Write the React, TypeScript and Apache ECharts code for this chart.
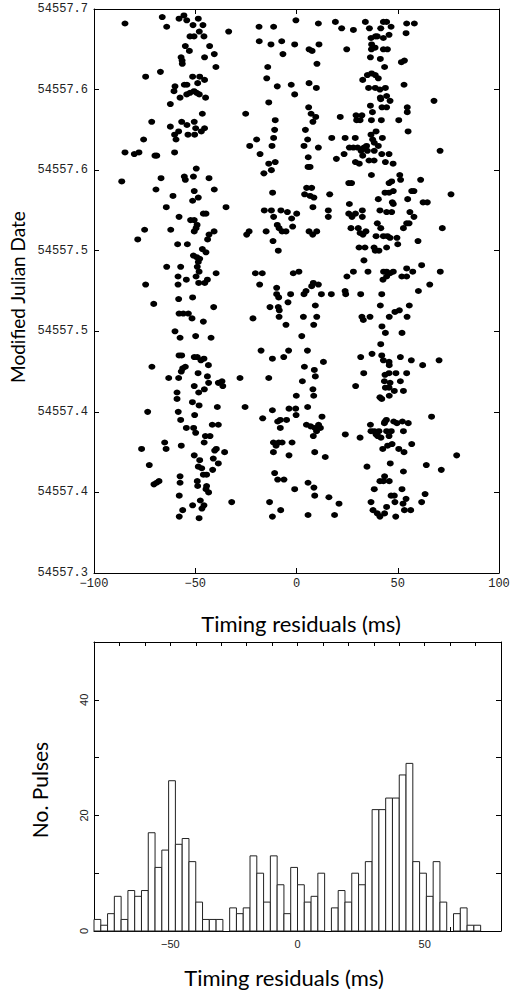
import React, { useEffect, useRef } from "react";
import * as echarts from "echarts";

// ---------- data ----------
const MJD_BASE = 54557; // y values are MJD - 54557 (days)
const Y_MIN = 0.35;
const Y_MAX = 0.7;
const Y_STEP = 0.05;
const yTickLabels = ["54557.3", "54557.4", "54557.4", "54557.5", "54557.5", "54557.6", "54557.6", "54557.7"];
const xTickValues = [-100, -50, 0, 50, 100];

// [timing residual (ms), MJD - 54557]
const pulsesUpperLeft: number[][] = [
  [-84.7,0.691],[-66.3,0.695],[-64.1,0.689],[-58.0,0.694],[-55.6,0.696],[-54.2,0.693],[-51.1,0.690],[-48.5,0.694],[-46.2,0.690],[-48.0,0.686],[-52.6,0.683],[-50.6,0.683],[-45.7,0.683],[-33.5,0.686],[-18.5,0.689],[-11.3,0.689],[-18.4,0.680],[-12.6,0.678],[-7.3,0.680],[-0.9,0.678],[-6.7,0.672],[-54.9,0.677],[-52.9,0.674],[-42.9,0.677],[-40.6,0.672],[-45.4,0.670],[-57.0,0.670],[-56.5,0.668],[-56.4,0.666],[-39.8,0.664],[-14.2,0.664],[-67.2,0.661],[-74.5,0.658],[-51.3,0.658],[-47.8,0.658],[-45.4,0.656],[-48.8,0.654],[-60.0,0.652],[-55.4,0.653],[-54.1,0.653],[-60.5,0.649],[-14.7,0.657],[-9.5,0.652],[-2.6,0.653],[-0.9,0.647],[-52.6,0.648],[-50.6,0.649],[-49.3,0.648],[-48.0,0.647],[-54.2,0.647],[-57.5,0.645],[-44.9,0.645],[-62.3,0.641],[-13.7,0.642],[-46.5,0.635],[-25.1,0.635],[-71.5,0.630],[-56.7,0.630],[-50.5,0.630],[-54.1,0.628],[-62.3,0.627],[-49.8,0.626],[-45.4,0.626],[-47.0,0.624],[-58.2,0.624],[-60.2,0.622],[-53.6,0.622],[-50.3,0.622],[-59.5,0.619],[-75.5,0.619],[-10.5,0.631],[-10.8,0.625],[-11.3,0.620],[-19.7,0.619],[-23.1,0.615],[-12.1,0.615],[-84.7,0.611],[-80.1,0.610],[-77.8,0.611],[-69.9,0.609],[-69.0,0.609],[-60.2,0.611],[-18.0,0.610],[-10.5,0.605],[-13.7,0.604],[-12.4,0.600],[-16.1,0.598],[-49.5,0.601],[-55.4,0.596],[-50.9,0.596],[-54.9,0.594],[-86.3,0.593],[-66.9,0.595],[-43.2,0.595],[-69.4,0.588],[-40.6,0.588],[-50.5,0.587],[-48.5,0.583],[-51.3,0.581],[-61.0,0.584],[-11.8,0.586],[-64.3,0.577],[-34.8,0.577],[-46.0,0.573],[-44.7,0.573],[-58.0,0.571],[-52.3,0.569],[-50.5,0.569],[-15.9,0.575],[-12.4,0.575],[-7.7,0.575],[-4.5,0.574],[-11.3,0.571],[-2.4,0.570],[-9.5,0.566],[-8.6,0.564],[-7.1,0.562],[-5.2,0.562],[-1.9,0.565],[-15.0,0.562],[-49.1,0.566],[-49.6,0.564],[-50.5,0.562],[-75.0,0.563],[-62.1,0.563],[-40.7,0.562],[-43.2,0.560],[-43.9,0.557],[-78.4,0.557],[-23.4,0.562],[-24.6,0.560],[-11.6,0.556],[-58.7,0.554],[-53.9,0.554],[-46.5,0.551],[-44.7,0.549],[-50.9,0.547],[-49.3,0.546],[-47.8,0.545],[-48.5,0.543],[-9.0,0.550],[-64.1,0.540],[-57.2,0.540],[-49.0,0.540]
];
const pulsesUpperRight: number[][] = [
  [-0.3,0.693],[10.8,0.691],[19.2,0.692],[22.3,0.688],[28.1,0.687],[34.0,0.692],[36.0,0.688],[41.6,0.688],[42.9,0.692],[44.5,0.692],[46.7,0.689],[54.4,0.691],[58.2,0.691],[54.1,0.685],[36.8,0.682],[39.0,0.683],[39.9,0.683],[42.9,0.682],[45.7,0.684],[11.1,0.678],[6.2,0.675],[7.7,0.674],[24.8,0.675],[37.1,0.678],[37.0,0.675],[38.8,0.676],[42.9,0.675],[44.9,0.675],[10.1,0.666],[36.5,0.670],[41.4,0.669],[43.5,0.664],[51.8,0.667],[53.3,0.668],[32.7,0.656],[35.0,0.659],[37.1,0.660],[38.9,0.659],[40.4,0.657],[35.6,0.651],[38.9,0.651],[41.2,0.650],[43.9,0.651],[53.1,0.653],[6.2,0.654],[9.8,0.651],[41.4,0.645],[44.5,0.646],[46.2,0.643],[41.6,0.644],[67.9,0.643],[6.0,0.639],[7.2,0.635],[9.5,0.633],[8.1,0.630],[21.6,0.633],[29.4,0.634],[32.3,0.634],[29.7,0.631],[31.4,0.631],[36.5,0.640],[37.5,0.636],[37.0,0.631],[42.2,0.639],[44.5,0.639],[41.9,0.631],[50.5,0.631],[54.7,0.639],[54.7,0.636],[55.1,0.624],[4.4,0.625],[5.5,0.619],[3.7,0.615],[10.8,0.614],[5.8,0.608],[5.7,0.602],[6.7,0.602],[17.4,0.620],[24.0,0.620],[29.0,0.620],[36.8,0.622],[37.6,0.619],[39.3,0.624],[42.4,0.620],[38.4,0.617],[40.4,0.615],[26.1,0.614],[28.1,0.614],[23.5,0.610],[19.7,0.607],[30.2,0.614],[31.9,0.612],[33.3,0.614],[34.6,0.615],[32.7,0.609],[35.0,0.612],[38.4,0.612],[42.1,0.610],[45.7,0.610],[29.1,0.605],[31.0,0.604],[35.8,0.606],[38.3,0.606],[43.9,0.605],[47.7,0.604],[70.9,0.612],[37.0,0.597],[51.0,0.597],[51.4,0.594],[45.7,0.592],[47.0,0.593],[61.3,0.594],[25.8,0.592],[27.2,0.592],[5.0,0.589],[7.5,0.589],[4.0,0.585],[6.7,0.584],[8.6,0.583],[16.4,0.585],[8.1,0.577],[0.1,0.573],[15.7,0.575],[15.7,0.571],[26.1,0.579],[25.8,0.573],[27.4,0.571],[29.1,0.573],[32.5,0.575],[32.5,0.571],[26.9,0.564],[30.5,0.564],[31.4,0.561],[34.3,0.562],[32.8,0.560],[40.4,0.582],[43.7,0.586],[45.7,0.586],[47.8,0.587],[47.3,0.580],[47.8,0.579],[41.2,0.575],[44.5,0.574],[47.0,0.574],[54.9,0.582],[56.9,0.587],[58.0,0.587],[62.5,0.580],[64.6,0.580],[76.3,0.585],[56.0,0.574],[58.0,0.571],[39.9,0.567],[41.6,0.564],[39.3,0.559],[42.9,0.559],[44.9,0.559],[46.2,0.558],[49.6,0.558],[50.0,0.554],[52.8,0.564],[54.4,0.567],[55.6,0.567],[60.0,0.556],[72.0,0.564],[30.9,0.552],[33.8,0.552],[38.3,0.552],[38.9,0.550],[40.7,0.550],[44.5,0.552],[33.3,0.544],[54.4,0.539],[61.8,0.541],[8.0,0.560],[10.0,0.562],[6.2,0.562]
];
const pulsesLowerLeft: number[][] = [
  [-48.1,0.537],[-39.7,0.536],[-20.3,0.536],[-16.9,0.536],[-1.6,0.536],[-58.5,0.534],[-54.4,0.532],[-49.6,0.534],[-48.3,0.530],[-45.3,0.530],[-44.0,0.532],[-74.5,0.529],[-58.5,0.529],[-18.2,0.529],[-9.8,0.527],[-9.8,0.523],[-8.8,0.521],[-2.9,0.523],[-4.2,0.518],[-13.1,0.515],[-9.0,0.515],[-8.5,0.513],[-8.6,0.509],[-5.2,0.504],[-21.5,0.508],[-70.5,0.517],[-58.2,0.520],[-51.3,0.521],[-40.9,0.515],[-58.0,0.511],[-55.9,0.511],[-53.4,0.511],[-51.6,0.508],[-46.0,0.506],[-60.0,0.500],[-57.5,0.496],[-49.8,0.497],[-42.2,0.496],[-58.0,0.485],[-56.7,0.485],[-50.5,0.484],[-49.0,0.484],[-47.2,0.482],[-45.7,0.483],[-43.5,0.479],[-54.9,0.478],[-56.2,0.477],[-56.9,0.475],[-71.4,0.478],[-63.1,0.471],[-58.2,0.471],[-48.6,0.474],[-44.0,0.472],[-43.4,0.468],[-38.6,0.468],[-36.8,0.469],[-36.4,0.466],[-50.5,0.466],[-48.3,0.462],[-45.5,0.464],[-27.9,0.471],[-13.7,0.471],[-17.5,0.488],[-11.9,0.483],[-6.3,0.484],[-3.9,0.488],[-59.0,0.462],[-59.0,0.458],[-51.4,0.456],[-48.1,0.454],[-73.5,0.450],[-58.4,0.450],[-50.3,0.448],[-39.1,0.453],[-25.4,0.453],[-57.2,0.445],[-54.4,0.440],[-50.8,0.440],[-49.8,0.437],[-41.6,0.442],[-38.6,0.442],[-45.0,0.435],[-42.7,0.435],[-45.6,0.431],[-65.1,0.431],[-76.5,0.427],[-64.4,0.427],[-56.9,0.429],[-50.5,0.423],[-47.8,0.420],[-41.1,0.421],[-40.4,0.426],[-39.6,0.427],[-35.5,0.425],[-38.6,0.418],[-48.5,0.416],[-46.8,0.415],[-41.4,0.414],[-72.7,0.417],[-46.0,0.411],[-44.4,0.411],[-57.5,0.410],[-57.5,0.406],[-49.0,0.407],[-48.8,0.404],[-70.4,0.405],[-69.1,0.406],[-67.9,0.407],[-44.4,0.404],[-44.7,0.402],[-43.4,0.400],[-57.9,0.398],[-47.5,0.395],[-51.3,0.392],[-45.7,0.392],[-46.7,0.390],[-56.2,0.389],[-57.9,0.385],[-48.1,0.384],[-32.0,0.394],[-13.3,0.394],[-7.8,0.389],[-11.9,0.385],[-10.8,0.412],[-9.3,0.408],[-6.2,0.408],[-0.9,0.402],[-11.4,0.431],[-10.1,0.429],[-8.8,0.431],[-7.1,0.431],[-2.2,0.431],[-11.4,0.425],[-3.7,0.423],[-11.9,0.451],[-16.7,0.446],[-9.3,0.444],[-8.0,0.445],[-4.9,0.445],[-8.0,0.440],[-3.7,0.452]
];
const pulsesLowerRight: number[][] = [
  [1.2,0.537],[24.9,0.534],[28.1,0.537],[35.3,0.537],[43.0,0.537],[44.5,0.537],[46.2,0.536],[47.8,0.537],[42.7,0.532],[44.5,0.534],[52.0,0.534],[54.4,0.534],[57.4,0.537],[71.0,0.537],[8.3,0.530],[10.8,0.529],[7.5,0.528],[4.7,0.525],[3.7,0.523],[12.3,0.523],[17.2,0.523],[24.0,0.525],[24.3,0.523],[31.7,0.523],[42.1,0.523],[60.2,0.525],[65.8,0.529],[9.3,0.516],[3.4,0.509],[10.0,0.509],[8.5,0.504],[32.3,0.509],[33.0,0.507],[36.3,0.509],[41.4,0.516],[45.8,0.509],[48.6,0.512],[50.8,0.513],[54.6,0.509],[55.7,0.516],[42.2,0.503],[43.9,0.499],[52.1,0.499],[2.6,0.497],[41.6,0.492],[5.4,0.488],[31.7,0.484],[37.3,0.486],[42.1,0.485],[42.9,0.482],[45.7,0.481],[45.8,0.479],[51.3,0.484],[56.7,0.482],[62.3,0.479],[70.4,0.482],[13.3,0.481],[3.9,0.478],[8.8,0.476],[9.3,0.472],[2.9,0.469],[8.1,0.464],[8.5,0.460],[-0.1,0.460],[33.2,0.474],[29.2,0.466],[43.7,0.473],[45.7,0.474],[49.1,0.474],[54.4,0.474],[43.4,0.469],[46.2,0.468],[51.3,0.469],[43.9,0.465],[45.7,0.465],[48.3,0.463],[52.8,0.463],[41.2,0.459],[42.1,0.458],[45.8,0.460],[-0.4,0.452],[-0.2,0.448],[5.5,0.453],[12.6,0.447],[4.9,0.442],[7.0,0.441],[9.1,0.440],[10.9,0.442],[11.8,0.440],[9.9,0.438],[8.3,0.435],[9.0,0.425],[14.2,0.422],[24.1,0.436],[31.4,0.434],[36.5,0.442],[36.8,0.438],[38.4,0.438],[39.6,0.437],[40.7,0.438],[39.3,0.436],[40.1,0.435],[41.7,0.434],[43.7,0.444],[43.4,0.443],[44.4,0.445],[44.5,0.438],[46.8,0.438],[45.7,0.435],[48.0,0.444],[49.6,0.443],[52.3,0.444],[55.2,0.443],[52.8,0.438],[56.9,0.430],[66.7,0.447],[42.6,0.427],[45.0,0.429],[47.2,0.430],[50.5,0.427],[53.1,0.425],[34.8,0.416],[46.3,0.418],[52.8,0.413],[64.1,0.417],[71.5,0.414],[79.1,0.423],[5.7,0.406],[8.6,0.403],[9.0,0.398],[16.0,0.397],[21.0,0.393],[5.7,0.386],[18.8,0.386],[43.5,0.410],[41.2,0.407],[42.9,0.407],[45.8,0.407],[38.4,0.402],[52.1,0.402],[46.7,0.398],[48.3,0.398],[48.6,0.394],[54.1,0.396],[52.6,0.393],[53.3,0.389],[56.4,0.389],[36.8,0.394],[37.8,0.389],[39.9,0.387],[41.2,0.385],[43.5,0.387],[44.5,0.391],[49.0,0.385],[61.8,0.394],[63.5,0.399]
];

// histogram: 60 bins from -80 to 80 ms
const HIST_MIN = -80;
const HIST_MAX = 80;
const binCounts = [
  2, 1, 3, 6, 2, 7, 6, 7, 17, 11,
  14, 26, 15, 16, 12, 5, 2, 2, 2, 0,
  4, 3, 4, 13, 10, 5, 13, 8, 3, 11,
  8, 5, 6, 10, 0, 4, 7, 5, 10, 8,
  12, 21, 21, 23, 23, 27, 29, 12, 10, 6,
  12, 5, 0, 3, 4, 1, 1, 0, 0, 0,
];

const minus = (v: number) => (v < 0 ? "\u2212" + Math.abs(v) : String(v));

export default function App() {
  const ref = useRef<HTMLDivElement>(null);
  useEffect(() => {
    if (!ref.current) return;
    const chart = echarts.init(ref.current, undefined, { renderer: "svg" });
    const binW = (HIST_MAX - HIST_MIN) / binCounts.length;
    const histData = binCounts
      .map((c, i) => [HIST_MIN + i * binW, HIST_MIN + (i + 1) * binW, c])
      .filter((d) => d[2] > 0);
    const pulses = [...pulsesUpperLeft, ...pulsesUpperRight, ...pulsesLowerLeft, ...pulsesLowerRight];

    const line = { show: true, onZero: false, lineStyle: { color: "#000", width: 1 } };
    const monoLabel = { fontFamily: "Liberation Mono", fontSize: 12, color: "#222" };
    const sansLabel = { fontFamily: "Liberation Sans", fontSize: 11, color: "#222" };

    const scatterX = {
      type: "value", min: -100, max: 100, interval: 50,
      axisLine: line, splitLine: { show: false },
      axisTick: { show: true, inside: true, length: 5, lineStyle: { color: "#000" } },
    };
    const scatterY = {
      type: "value", min: Y_MIN, max: Y_MAX, interval: Y_STEP,
      axisLine: line, splitLine: { show: false },
      axisTick: { show: true, inside: true, length: 5, lineStyle: { color: "#000" } },
    };
    const histX = {
      type: "value", min: HIST_MIN, max: HIST_MAX, interval: 10,
      axisLine: line, splitLine: { show: false },
      axisTick: { show: true, inside: true, length: 4, lineStyle: { color: "#000" } },
    };
    const histY = {
      type: "value", min: 0, max: 50, interval: 10,
      axisLine: line, splitLine: { show: false },
      axisTick: { show: true, inside: true, length: 5, lineStyle: { color: "#000" } },
    };

    const titleStyle = { fontFamily: "Lato", fill: "#000", align: "center", verticalAlign: "middle" };

    chart.setOption({
      animation: false,
      backgroundColor: "#fff",
      grid: [
        { left: 94, top: 9, width: 405, height: 564 },
        { left: 94, top: 642, width: 407, height: 289 },
      ],
      xAxis: [
        { ...scatterX, gridIndex: 0, position: "bottom",
          axisLabel: { ...monoLabel, margin: 5, formatter: (v: number) => (xTickValues.includes(v) ? minus(v) : "") } },
        { ...scatterX, gridIndex: 0, position: "top", axisLabel: { show: false } },
        { ...histX, gridIndex: 1, position: "bottom",
          axisLabel: { ...sansLabel, margin: 7, formatter: (v: number) => ([-50, 0, 50].includes(v) ? minus(v) : "") } },
        { ...histX, gridIndex: 1, position: "top", axisLabel: { show: false } },
      ],
      yAxis: [
        { ...scatterY, gridIndex: 0, position: "left",
          axisLabel: { ...monoLabel, margin: 6, formatter: (v: number) => yTickLabels[Math.round((v - Y_MIN) / Y_STEP)] ?? "" } },
        { ...scatterY, gridIndex: 0, position: "right", axisLabel: { show: false } },
        { ...histY, gridIndex: 1, position: "left",
          axisLabel: { ...sansLabel, margin: 5, rotate: 90, formatter: (v: number) => (v % 20 === 0 && v < 50 ? String(v) : "") } },
        { ...histY, gridIndex: 1, position: "right", axisLabel: { show: false } },
      ],
      series: [
        {
          type: "scatter", xAxisIndex: 0, yAxisIndex: 0,
          symbol: "circle", symbolSize: [7, 6],
          itemStyle: { color: "#000", opacity: 1 },
          data: pulses,
        },
        {
          type: "custom", xAxisIndex: 2, yAxisIndex: 2,
          encode: { x: [0, 1], y: 2 },
          data: histData,
          renderItem: (params: any, api: any) => {
            const p0 = api.coord([api.value(0), api.value(2)]);
            const p1 = api.coord([api.value(1), 0]);
            return {
              type: "rect",
              shape: { x: p0[0], y: p0[1], width: p1[0] - p0[0], height: p1[1] - p0[1] },
              style: { fill: "#fff", stroke: "#222", lineWidth: 1 },
            };
          },
        },
      ],
      graphic: [
        { type: "text", x: 17, y: 297, rotation: Math.PI / 2,
          style: { ...titleStyle, text: "Modified Julian Date", fontSize: 19 } },
        { type: "text", x: 301, y: 623,
          style: { ...titleStyle, text: "Timing residuals (ms)", fontSize: 22 } },
        { type: "text", x: 39, y: 790, rotation: Math.PI / 2,
          style: { ...titleStyle, text: "No. Pulses", fontSize: 21 } },
        { type: "text", x: 284, y: 977,
          style: { ...titleStyle, text: "Timing residuals (ms)", fontSize: 22 } },
      ],
    });
    return () => chart.dispose();
  }, []);
  return (
    <div
      ref={ref}
      style={{ position: "fixed", left: 0, top: 0, width: 513, height: 990, background: "#fff" }}
    />
  );
}
